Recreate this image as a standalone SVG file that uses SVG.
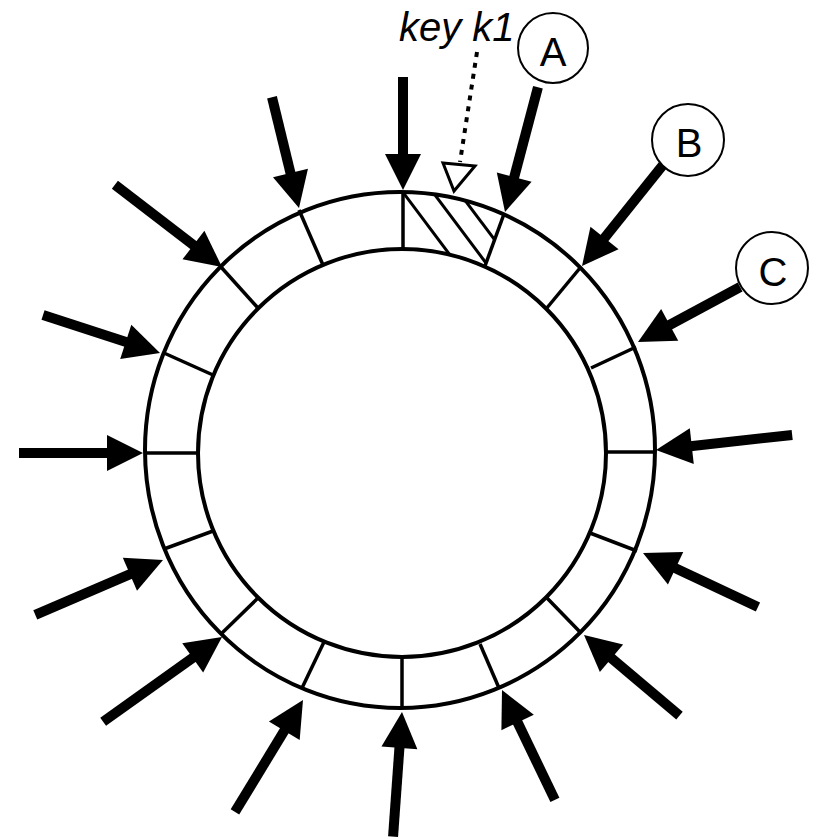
<svg xmlns="http://www.w3.org/2000/svg" xmlns:xlink="http://www.w3.org/1999/xlink" width="817" height="839" viewBox="0 0 817 839">
<style>
.ring{fill:none;stroke:#000;stroke-width:4}
.div{stroke:#000;stroke-width:3.5;fill:none}
.hatch{stroke:#000;stroke-width:3;fill:none}
.shaft{stroke:#000;stroke-width:10;fill:none}
.head{fill:#000;stroke:none}
.node circle{fill:#fff;stroke:#000;stroke-width:2}
.lbl{font-family:"Liberation Sans",Arial,sans-serif;font-size:40px;fill:#000;text-anchor:middle}
.key{font-family:"Liberation Sans",Arial,sans-serif;font-size:40px;font-style:italic;fill:#000}
</style>
<defs>
<clipPath id="seg"><path d="M403,250 L403,192 A255,258 0 0 1 503.7,214.3 L485,266.6 A204,204 0 0 0 403,249 Z"/></clipPath>
<path id="ah" d="M0,0 L-36,-18 L-36,18 Z"/>
</defs>
<rect width="817" height="839" fill="#fff"/>
<g id="ring">
<g clip-path="url(#seg)">
<line class="hatch" x1="396" y1="183" x2="456" y2="263"/>
<line class="hatch" x1="426" y1="183" x2="486" y2="263"/>
<line class="hatch" x1="452" y1="183" x2="512" y2="263"/>
</g>
<ellipse class="ring" cx="400" cy="450" rx="255" ry="258"/>
<circle class="ring" cx="402" cy="453" r="204"/>
<line class="div" x1="403" y1="192" x2="403" y2="250"/>
<line class="div" x1="504" y1="214" x2="485" y2="266"/>
<line class="div" x1="580" y1="268" x2="546" y2="309"/>
<line class="div" x1="636" y1="347" x2="591" y2="368"/>
<line class="div" x1="655" y1="452" x2="606" y2="452"/>
<line class="div" x1="637" y1="551" x2="590" y2="533"/>
<line class="div" x1="581" y1="633" x2="547" y2="598"/>
<line class="div" x1="499" y1="688" x2="480" y2="644"/>
<line class="div" x1="402" y1="708" x2="402" y2="657"/>
<line class="div" x1="302" y1="688" x2="324" y2="642"/>
<line class="div" x1="221" y1="634" x2="258" y2="598"/>
<line class="div" x1="164" y1="549" x2="213" y2="531"/>
<line class="div" x1="145" y1="453" x2="198" y2="453"/>
<line class="div" x1="164" y1="353" x2="213" y2="375"/>
<line class="div" x1="221" y1="267" x2="258" y2="308"/>
<line class="div" x1="299" y1="210" x2="323" y2="265"/>
</g>
<g id="connectors">
<g transform="translate(403,190) rotate(90)"><line class="shaft" x1="-113" y1="0" x2="-30" y2="0"/><use href="#ah" class="head"/></g>
<g transform="translate(505,212) rotate(104.8)"><line class="shaft" x1="-129" y1="0" x2="-30" y2="0"/><use href="#ah" class="head"/></g>
<g transform="translate(582,266) rotate(128.7)"><line class="shaft" x1="-129" y1="0" x2="-30" y2="0"/><use href="#ah" class="head"/></g>
<g transform="translate(638,342) rotate(151.7)"><line class="shaft" x1="-116" y1="0" x2="-30" y2="0"/><use href="#ah" class="head"/></g>
<g transform="translate(656,450) rotate(173.7)"><line class="shaft" x1="-137" y1="0" x2="-30" y2="0"/><use href="#ah" class="head"/></g>
<g transform="translate(643,553) rotate(205.15)"><line class="shaft" x1="-127" y1="0" x2="-30" y2="0"/><use href="#ah" class="head"/></g>
<g transform="translate(584,635) rotate(220.2)"><line class="shaft" x1="-125" y1="0" x2="-30" y2="0"/><use href="#ah" class="head"/></g>
<g transform="translate(502,690) rotate(244.3)"><line class="shaft" x1="-122" y1="0" x2="-30" y2="0"/><use href="#ah" class="head"/></g>
<g transform="translate(402,712) rotate(274.1)"><line class="shaft" x1="-125" y1="0" x2="-30" y2="0"/><use href="#ah" class="head"/></g>
<g transform="translate(303,700) rotate(-58.7)"><line class="shaft" x1="-131" y1="0" x2="-30" y2="0"/><use href="#ah" class="head"/></g>
<g transform="translate(222,637) rotate(-35.5)"><line class="shaft" x1="-146" y1="0" x2="-30" y2="0"/><use href="#ah" class="head"/></g>
<g transform="translate(163,560) rotate(-23.25)"><line class="shaft" x1="-139" y1="0" x2="-30" y2="0"/><use href="#ah" class="head"/></g>
<g transform="translate(143,453) rotate(0)"><line class="shaft" x1="-124" y1="0" x2="-30" y2="0"/><use href="#ah" class="head"/></g>
<g transform="translate(160,353) rotate(18)"><line class="shaft" x1="-123" y1="0" x2="-30" y2="0"/><use href="#ah" class="head"/></g>
<g transform="translate(222,267) rotate(37.5)"><line class="shaft" x1="-135" y1="0" x2="-30" y2="0"/><use href="#ah" class="head"/></g>
<g transform="translate(299,208) rotate(76.3)"><line class="shaft" x1="-114" y1="0" x2="-30" y2="0"/><use href="#ah" class="head"/></g>
<line x1="477" y1="52" x2="460" y2="162" stroke="#000" stroke-width="4" stroke-dasharray="5,6"/>
<polygon points="443,163 475,166 454,191" fill="#fff" stroke="#000" stroke-width="3"/>
</g>
<g id="key"><text class="key" x="399" y="41">key k1</text></g>
<g id="nodeA" class="node"><circle cx="553" cy="48" r="35"/><text class="lbl" x="553" y="66">A</text></g>
<g id="nodeB" class="node"><circle cx="688" cy="140" r="36"/><text class="lbl" x="689" y="157">B</text></g>
<g id="nodeC" class="node"><circle cx="772" cy="268" r="36"/><text class="lbl" x="773" y="286">C</text></g>
</svg>
